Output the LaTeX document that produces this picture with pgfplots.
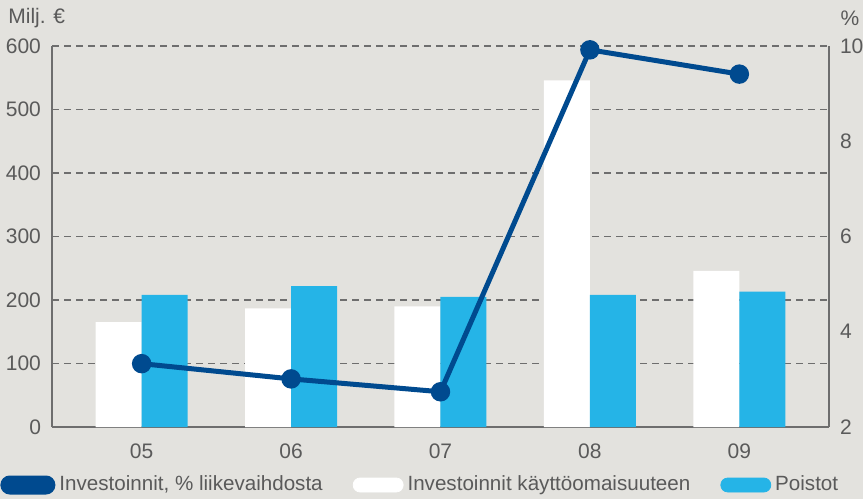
\documentclass[border=0pt]{standalone}
\usepackage{fontspec}
\setmainfont{Liberation Sans}
\usepackage{pgfplots}
\pgfplotsset{compat=1.18}

\definecolor{bgcol}{HTML}{E3E2DE}
\definecolor{darkblue}{HTML}{004A8F}
\definecolor{lightblue}{HTML}{25B4E7}
\definecolor{txt}{HTML}{5A5A5A}
\definecolor{axl}{HTML}{6E6E6E}

\pgfplotsset{
  common/.style={
    at={(26pt,36pt)}, anchor=south west,
    scale only axis, width=388.5pt, height=190.5pt,
    xmin=-0.6, xmax=4.6,
    xtick={0,...,4},
    major tick length=0pt,
    tick label style={font=\fontsize{10.5}{12}\selectfont, text=txt},
    /pgf/number format/assume math mode=true,
    axis line style={axl, line width=0.8pt},
  }
}

\begin{document}
\begin{tikzpicture}
\path[use as bounding box, fill=bgcol] (0,0) rectangle (431.5pt,249.5pt);

\begin{axis}[common,
  axis y line*=left, axis x line*=bottom,
  ymin=0, ymax=600, ytick={0,100,...,600},
  xticklabels={05,06,07,08,09},
  xticklabel style={yshift=-5pt},
  yticklabel style={xshift=-2pt},
  ymajorgrids, grid style={axl, line width=0.6pt, dash pattern=on 3.5pt off 2.5pt},
  ybar=0pt, bar width=23pt,
]
\addplot[draw=none, fill=white] coordinates {(0,165) (1,187) (2,190) (3,546) (4,246)};
\addplot[draw=none, fill=lightblue] coordinates {(0,208) (1,222) (2,205) (3,208) (4,213)};
\end{axis}

\begin{axis}[common,
  axis y line*=right, axis x line=none,
  ymin=2, ymax=10, ytick={2,4,6,8,10},
  yticklabel style={xshift=2pt},
  legend columns=-1,
  legend style={at={(rel axis cs:0,0)}, anchor=west, xshift=-26pt, yshift=-29pt,
    draw=none, fill=none, inner sep=0pt,
    font=\fontsize{10.3}{12}\selectfont, text=txt,
    /tikz/every even column/.append style={column sep=13pt}},
]
\addplot[darkblue, line width=2.5pt, mark=*, mark size=3.6pt,
  legend image code/.code={\fill[darkblue, rounded corners=3.5pt] (0pt,-3.5pt) rectangle (25pt,3.5pt);}]
  coordinates {(0,3.33) (1,3.01) (2,2.74) (3,9.92) (4,9.41)};
\addlegendentry{Investoinnit, \% liikevaihdosta}
\addlegendimage{legend image code/.code={\fill[white, rounded corners=3.5pt] (0pt,-3.5pt) rectangle (25pt,3.5pt);}}
\addlegendentry{Investoinnit käyttöomaisuuteen}
\addlegendimage{legend image code/.code={\fill[lightblue, rounded corners=3.5pt] (0pt,-3.5pt) rectangle (25pt,3.5pt);}}
\addlegendentry{Poistot}
\end{axis}

\node[anchor=west, text=txt, font=\fontsize{10.5}{12}\selectfont, inner sep=0pt] at (4pt,240.5pt) {Milj. €};
\node[text=txt, font=\fontsize{10.5}{12}\selectfont, inner sep=0pt] at (425pt,240.5pt) {\%};
\end{tikzpicture}
\end{document}
